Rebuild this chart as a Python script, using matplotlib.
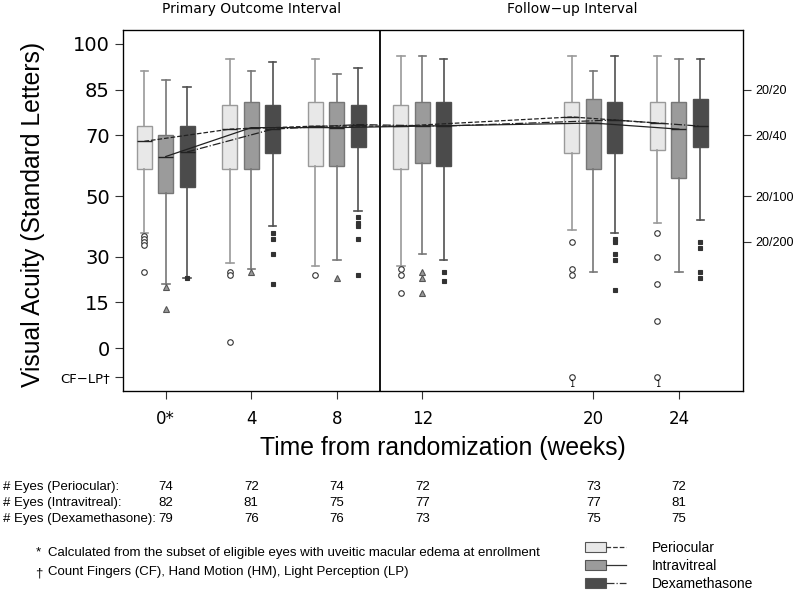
import numpy as np
import matplotlib
matplotlib.use("Agg")
import matplotlib.pyplot as plt
import matplotlib.transforms as mtransforms
from matplotlib.patches import Patch
from matplotlib.lines import Line2D
from matplotlib.legend_handler import HandlerTuple

plt.rcParams['font.family'] = ['DejaVu Sans']

# visits (weeks from randomization)
weeks = [0, 4, 8, 12, 20, 24]
week_labels = ["0*", "4", "8", "12", "20", "24"]
CF = -9.5  # CF-LP position on the letter scale

# box statistics per arm: lower whisker, q1, median, q3, upper whisker, outliers
peri_whislo = [38, 28, 27, 27, 39, 41]
peri_q1 = [59, 59, 60, 59, 64, 65]
peri_med = [68, 72, 73, 73, 76, 74]
peri_q3 = [73, 80, 81, 80, 81, 81]
peri_whishi = [91, 95, 95, 96, 96, 96]
peri_fliers = [[37, 36, 35, 34, 25], [25, 24, 2], [24], [26, 24, 18],
               [35, 26, 24, CF], [38, 30, 21, 9, CF]]

intra_whislo = [21, 26, 29, 31, 25, 25]
intra_q1 = [51, 59, 60, 61, 59, 56]
intra_med = [63, 72.5, 72.5, 73, 74, 72]
intra_q3 = [70, 81, 81, 81, 82, 81]
intra_whishi = [88, 91, 90, 96, 91, 95]
intra_fliers = [[20, 13], [25], [23], [25, 23, 18], [], []]

dex_whislo = [23, 40, 45, 29, 38, 42]
dex_q1 = [53, 64, 66, 60, 64, 66]
dex_med = [64.5, 72, 73.5, 73, 75, 73]
dex_q3 = [73, 80, 80, 81, 81, 82]
dex_whishi = [86, 94, 92, 95, 96, 95]
dex_fliers = [[23], [38, 36, 31, 21], [43, 41, 40, 36, 24], [25, 22],
              [36, 35, 31, 29, 19], [35, 33, 25, 23]]

# number of eyes per visit
n_peri = [74, 72, 74, 72, 73, 72]
n_intra = [82, 81, 75, 77, 77, 81]
n_dex = [79, 76, 76, 73, 75, 75]

arms = [
    dict(name="Periocular", offset=-1, fill="#e8e8e8", edge="#9a9a9a", ls="--",
         marker="o", mface="white", medge="#333333", ms=4,
         stats=(peri_whislo, peri_q1, peri_med, peri_q3, peri_whishi, peri_fliers)),
    dict(name="Intravitreal", offset=0, fill="#9b9b9b", edge="#777777", ls="-",
         marker="^", mface="#999999", medge="#555555", ms=4,
         stats=(intra_whislo, intra_q1, intra_med, intra_q3, intra_whishi, intra_fliers)),
    dict(name="Dexamethasone", offset=1, fill="#4b4b4b", edge="#505050", ls="-.",
         marker="s", mface="#333333", medge="#333333", ms=3,
         stats=(dex_whislo, dex_q1, dex_med, dex_q3, dex_whishi, dex_fliers)),
]

fig = plt.figure(figsize=(8, 5.9), dpi=100)
ax = fig.add_axes([123/800, 1-391/590, 620/800, 361/590])

for arm in arms:
    lo, q1, med, q3, hi, fl = arm["stats"]
    pos = [w + arm["offset"] for w in weeks]
    stats = [dict(whislo=lo[i], q1=q1[i], med=med[i], q3=q3[i], whishi=hi[i],
                  fliers=fl[i]) for i in range(len(weeks))]
    ax.bxp(stats, positions=pos, widths=0.7, patch_artist=True, manage_ticks=False,
           boxprops=dict(facecolor=arm["fill"], edgecolor=arm["edge"], lw=1),
           whiskerprops=dict(color=arm["edge"], lw=1.2),
           capprops=dict(color=arm["edge"], lw=1.2),
           medianprops=dict(color="#222222", lw=1),
           flierprops=dict(marker=arm["marker"], markerfacecolor=arm["mface"],
                           markeredgecolor=arm["medge"], markersize=arm["ms"],
                           markeredgewidth=0.8))
    # median trend line
    ax.plot(pos, med, color="#222222", lw=0.9, ls=arm["ls"], zorder=5)
    for p, f in zip(pos, fl):
        if CF in f:
            ax.text(p, CF - 2.6, "1", fontsize=6, ha="center", va="center")

ax.axvline(10, color="black", lw=1.3)

ax.set_xlim(-2, 27)
ax.set_ylim(-14.1, 104.6)
ax.set_xticks(weeks)
ax.set_xticklabels(week_labels, fontsize=12)
ax.set_yticks([100, 85, 70, 50, 30, 15, 0, CF])
ax.set_yticklabels(["100", "85", "70", "50", "30", "15", "0", "CF\u2212LP\u2020"], fontsize=14)
ax.get_yticklabels()[-1].set_fontsize(9.5)
ax.tick_params(direction="out", length=6, width=0.8, color="#333333")
ax.tick_params(axis="x", pad=8)
lab_font = dict(family=["Liberation Sans", "DejaVu Sans"], fontsize=17.8)
ax.set_ylabel("Visual Acuity (Standard Letters)", **lab_font)
ax.yaxis.set_label_coords(-0.125, 0.49)
ax.set_xlabel("Time from randomization (weeks)", **lab_font)
ax.xaxis.set_label_coords(0.516, -0.125)
for s in ax.spines.values():
    s.set_linewidth(0.9)

ax2 = ax.twinx()
ax2.set_ylim(ax.get_ylim())
ax2.set_yticks([85, 70, 50, 35])
ax2.set_yticklabels(["20/20", "20/40", "20/100", "20/200"], fontsize=9,
                    family=["Liberation Sans", "DejaVu Sans"])
ax2.tick_params(direction="out", length=6, width=0.8, color="#333333", pad=3)

bt = mtransforms.blended_transform_factory(ax.transData, fig.transFigure)
ax.text(4, 1 - 9/590, "Primary Outcome Interval", transform=bt, ha="center",
        va="center", fontsize=10)
ax.text(19, 1 - 9/590, "Follow\u2212up Interval", transform=bt, ha="center",
        va="center", fontsize=10)

# counts table
tfont = dict(family=["Liberation Sans", "DejaVu Sans"], fontsize=9.5)
rows = [("# Eyes (Periocular):", n_peri), ("# Eyes (Intravitreal):", n_intra),
        ("# Eyes (Dexamethasone):", n_dex)]
for k, (lab, vals) in enumerate(rows):
    yy = 1 - (487 + 16*k)/590
    fig.text(3/800, yy, lab, ha="left", va="center", **tfont)
    for w, v in zip(weeks, vals):
        ax.text(w, yy, str(v), transform=bt, ha="center", va="center", **tfont)

fig.text(36/800, 1 - 552/590, "*", ha="left", va="center", **tfont)
fig.text(48/800, 1 - 553/590,
         "Calculated from the subset of eligible eyes with uveitic macular edema at enrollment",
         ha="left", va="center", **tfont)
fig.text(35/800, 1 - 573/590, "\u2020", ha="left", va="center", **tfont)
fig.text(48/800, 1 - 572/590,
         "Count Fingers (CF), Hand Motion (HM), Light Perception (LP)",
         ha="left", va="center", **tfont)

handles = []
for arm in arms:
    handles.append((Patch(facecolor=arm["fill"], edgecolor="#555555", lw=0.8),
                    Line2D([], [], color="#333333", lw=0.9, ls=arm["ls"])))
fig.legend(handles, [a["name"] for a in arms],
           handler_map={tuple: HandlerTuple(ndivide=None, pad=0.0)},
           loc="upper left", bbox_to_anchor=(575/800, 1 - 531/590), frameon=False,
           borderpad=0.2, handlelength=3.0, handleheight=0.75, handletextpad=1.8,
           labelspacing=0.3, prop=dict(family="Liberation Sans", size=10))

fig.savefig("out.png", dpi=100)
